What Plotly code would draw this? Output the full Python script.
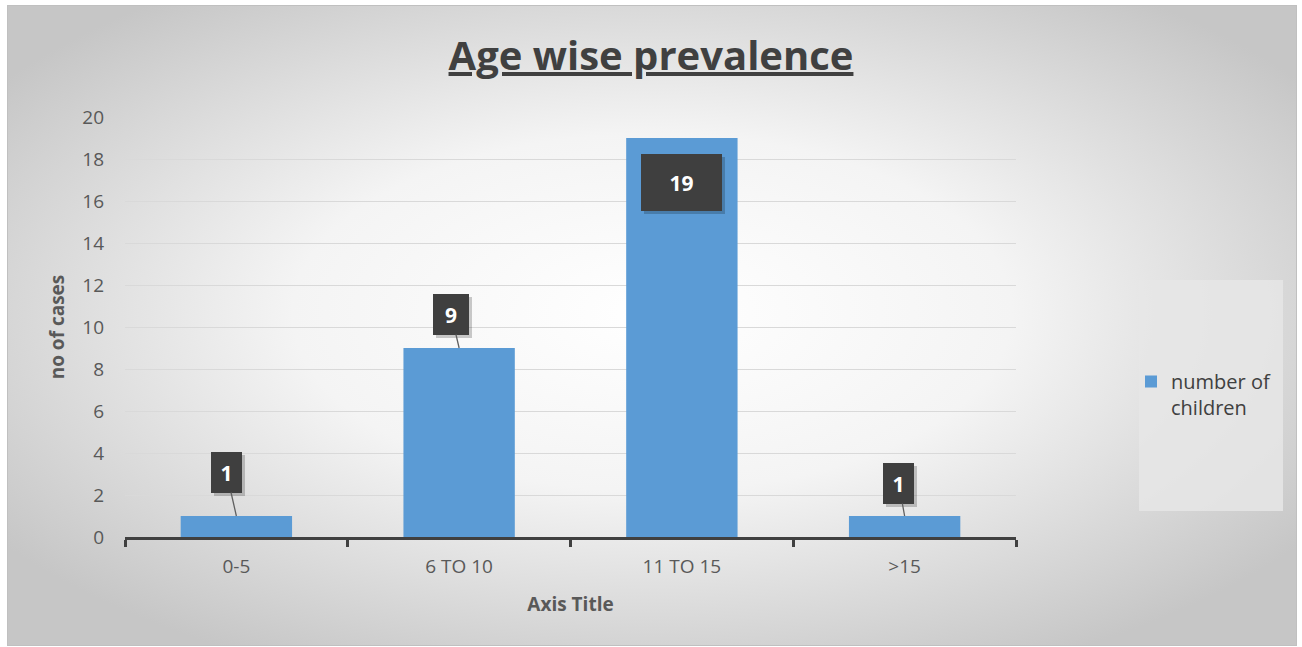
import base64
import plotly.graph_objects as go

# ---- data ----
categories = ["0-5", "6 TO 10", "11 TO 15", ">15"]
values = [1, 9, 19, 1]
series_name = "number of<br>children"
y_ticks = [0, 2, 4, 6, 8, 10, 12, 14, 16, 18, 20]

# ---- layout constants ----
W, H = 1302, 647
ML, MR, MT, MB = 125, 286, 117, 110
PW, PH = W - ML - MR, H - MT - MB

FONT = "Open Sans"
DARK = "#404040"
GREY = "#595959"
BLUE = "#5B9BD5"

def px_to_paper_x(px):
    return (px - ML) / PW

def px_to_paper_y(py):
    return (H - MB - py) / PH

# background: bordered panel with radial gradient
svg = f'''<svg xmlns="http://www.w3.org/2000/svg" width="{W}" height="{H}" viewBox="0 0 {W} {H}" preserveAspectRatio="none">
<defs>
<radialGradient id="g" cx="50%" cy="48%" r="62%" fx="50%" fy="48%">
<stop offset="0%" stop-color="#ffffff"/>
<stop offset="45%" stop-color="#f4f4f4"/>
<stop offset="100%" stop-color="#c6c6c6"/>
</radialGradient>
</defs>
<rect x="0" y="0" width="{W}" height="{H}" fill="#ffffff"/>
<rect x="7.5" y="5.5" width="1289" height="640" fill="url(#g)" stroke="#c0c0c0" stroke-width="1"/>
<rect x="1139" y="280" width="144" height="231" fill="#e6e6e6" fill-opacity="0.85"/>
</svg>'''
bg_src = "data:image/svg+xml;base64," + base64.b64encode(svg.encode()).decode()

fig = go.Figure()
fig.add_trace(go.Bar(
    x=categories, y=values, name=series_name,
    marker=dict(color=BLUE, line=dict(width=0)),
    width=0.5, showlegend=True,
))

# data label styling (pixel offsets of callout boxes)
label_style = [
    dict(ax=-10, ay=-44, w=31, h=41, arrow=True),
    dict(ax=-8, ay=-34, w=36, h=41, arrow=True),
    dict(ax=0, ay=44, w=81, h=57, arrow=False),
    dict(ax=-6, ay=-33, w=31, h=41, arrow=True),
]

annotations = []
for cat, val, st in zip(categories, values, label_style):
    common = dict(x=cat, y=val, xref="x", yref="y", axref="pixel", ayref="pixel",
                  ax=st["ax"], ay=st["ay"], width=st["w"], height=st["h"],
                  borderpad=0, borderwidth=0, align="center", valign="middle")
    # shadow
    annotations.append(dict(common, text=" ", bgcolor="rgba(0,0,0,0.2)",
                            showarrow=True, arrowcolor="rgba(0,0,0,0)",
                            xshift=3, yshift=-3, font=dict(size=20)))
    annotations.append(dict(common, text=f"<b>{val}</b>", bgcolor="#3f3f3f",
                            font=dict(family=FONT, size=21, color="white"),
                            showarrow=True, arrowhead=0, arrowwidth=1.3,
                            arrowcolor="#606060" if st["arrow"] else "rgba(0,0,0,0)",
                            standoff=0, startstandoff=0))

fig.update_layout(
    width=W, height=H,
    margin=dict(l=ML, r=MR, t=MT, b=MB, autoexpand=False),
    paper_bgcolor="white", plot_bgcolor="rgba(0,0,0,0)",
    font=dict(family=FONT, color=GREY, size=19),
    title=dict(text="<b><u>Age wise prevalence</u></b>",
               font=dict(family=FONT, size=40, color=DARK),
               x=0.5, xref="container", xanchor="center",
               y=1 - 56 / H, yref="container", yanchor="middle"),
    bargap=0.5,
    xaxis=dict(
        type="category", showgrid=False, zeroline=False,
        showline=True, linecolor=DARK, linewidth=3,
        ticks="outside", tickson="boundaries", ticklen=7, tickwidth=3, tickcolor=DARK,
        ticklabelstandoff=10,
        tickfont=dict(family=FONT, size=19, color=GREY),
        title=dict(text="<b>Axis Title</b>", font=dict(family=FONT, size=19, color=GREY), standoff=20),
    ),
    yaxis=dict(
        range=[0, 20], tickvals=y_ticks, showline=False, zeroline=False,
        showgrid=True, gridcolor="#d9d9d9", gridwidth=1,
        ticks="", ticklabelstandoff=20,
        tickfont=dict(family=FONT, size=19, color=GREY),
        title=dict(text="<b>no of cases</b>", font=dict(family=FONT, size=19, color=GREY), standoff=12),
    ),
    legend=dict(
        x=px_to_paper_x(1131), y=px_to_paper_y(362), xanchor="left", yanchor="top",
        xref="paper", yref="paper",
        bgcolor="rgba(0,0,0,0)", borderwidth=0,
        font=dict(family=FONT, size=20, color=DARK), valign="top",
    ),
    images=[dict(source=bg_src, xref="paper", yref="paper",
                 x=px_to_paper_x(0), y=px_to_paper_y(0),
                 sizex=W / PW, sizey=H / PH, xanchor="left", yanchor="top",
                 sizing="stretch", layer="below")],
    annotations=annotations,
)

fig.write_html("out.html", config={"displayModeBar": False},
               post_script="document.body.style.margin='0';")
